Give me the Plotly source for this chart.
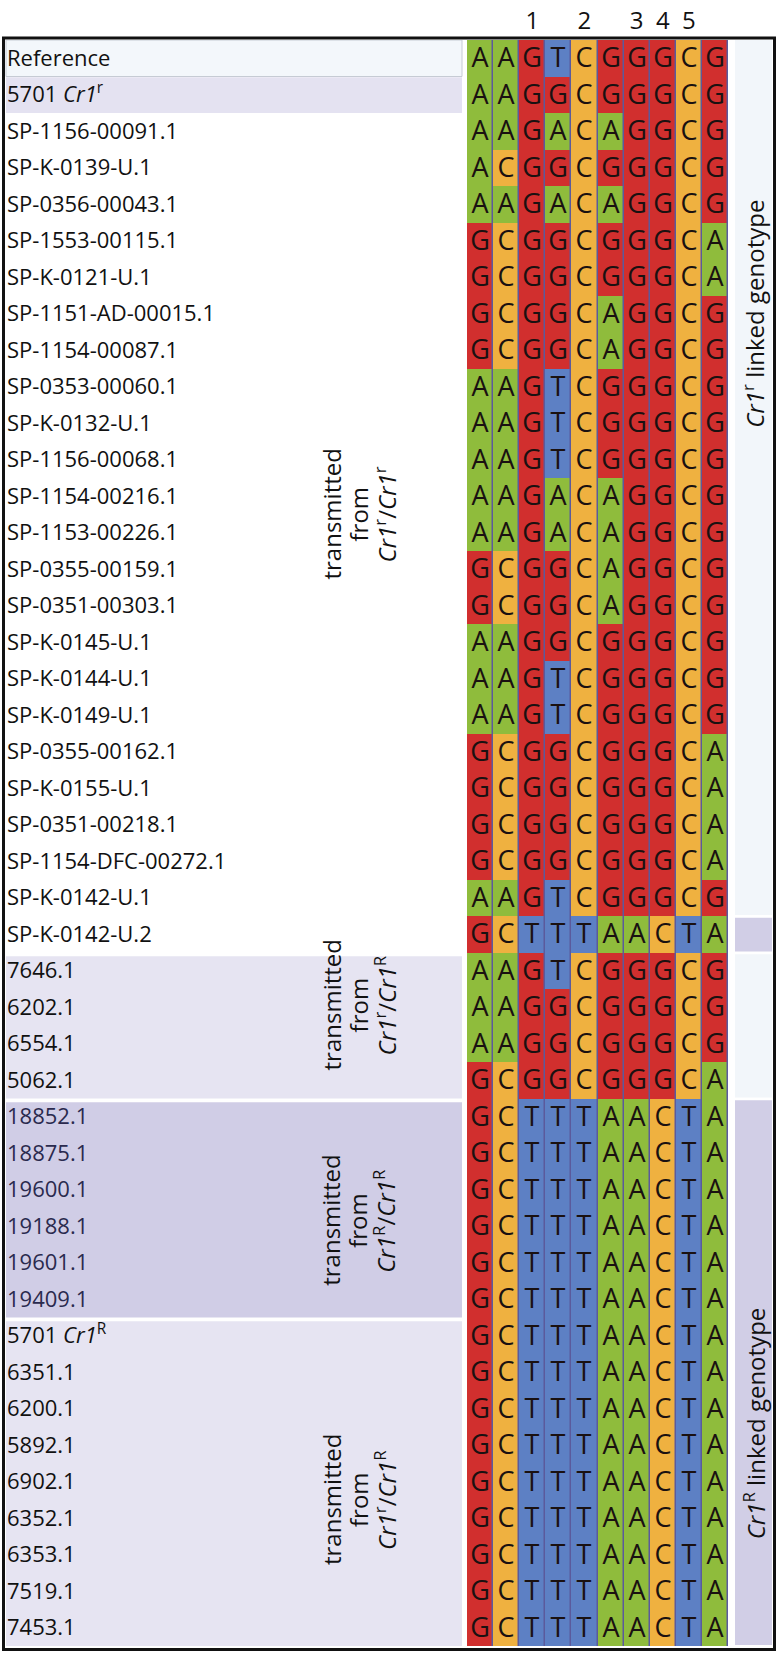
import plotly.graph_objects as go

# ---------------- data ----------------
row_labels = [
    "Reference", "5701 <i>Cr1</i><sup>r</sup>",
    "SP-1156-00091.1", "SP-K-0139-U.1", "SP-0356-00043.1", "SP-1553-00115.1",
    "SP-K-0121-U.1", "SP-1151-AD-00015.1", "SP-1154-00087.1", "SP-0353-00060.1",
    "SP-K-0132-U.1", "SP-1156-00068.1", "SP-1154-00216.1", "SP-1153-00226.1",
    "SP-0355-00159.1", "SP-0351-00303.1", "SP-K-0145-U.1", "SP-K-0144-U.1",
    "SP-K-0149-U.1", "SP-0355-00162.1", "SP-K-0155-U.1", "SP-0351-00218.1",
    "SP-1154-DFC-00272.1", "SP-K-0142-U.1", "SP-K-0142-U.2",
    "7646.1", "6202.1", "6554.1", "5062.1",
    "18852.1", "18875.1", "19600.1", "19188.1", "19601.1", "19409.1",
    "5701 <i>Cr1</i><sup>R</sup>", "6351.1", "6200.1", "5892.1", "6902.1",
    "6352.1", "6353.1", "7519.1", "7453.1",
]
sequences = [
    "AAGTCGGGCG", "AAGGCGGGCG",
    "AAGACAGGCG", "ACGGCGGGCG", "AAGACAGGCG", "GCGGCGGGCA",
    "GCGGCGGGCA", "GCGGCAGGCG", "GCGGCAGGCG", "AAGTCGGGCG",
    "AAGTCGGGCG", "AAGTCGGGCG", "AAGACAGGCG", "AAGACAGGCG",
    "GCGGCAGGCG", "GCGGCAGGCG", "AAGGCGGGCG", "AAGTCGGGCG",
    "AAGTCGGGCG", "GCGGCGGGCA", "GCGGCGGGCA", "GCGGCGGGCA",
    "GCGGCGGGCA", "AAGTCGGGCG", "GCTTTAACTA",
    "AAGTCGGGCG", "AAGGCGGGCG", "AAGGCGGGCG", "GCGGCGGGCA",
    "GCTTTAACTA", "GCTTTAACTA", "GCTTTAACTA", "GCTTTAACTA", "GCTTTAACTA", "GCTTTAACTA",
    "GCTTTAACTA", "GCTTTAACTA", "GCTTTAACTA", "GCTTTAACTA", "GCTTTAACTA",
    "GCTTTAACTA", "GCTTTAACTA", "GCTTTAACTA", "GCTTTAACTA",
]
header_cols = [2, 4, 6, 7, 8]
header_text = ["1", "2", "3", "4", "5"]

# groups (first row, last row)
transmit_groups = [(2, 24), (25, 28), (29, 34), (35, 43)]
transmit_parents = [
    "<i>Cr1</i><sup>r</sup>/<i>Cr1</i><sup>r</sup>",
    "<i>Cr1</i><sup>r</sup>/<i>Cr1</i><sup>R</sup>",
    "<i>Cr1</i><sup>R</sup>/<i>Cr1</i><sup>R</sup>",
    "<i>Cr1</i><sup>r</sup>/<i>Cr1</i><sup>R</sup>",
]
linked_groups = [(0, 23), (24, 24), (25, 28), (29, 43)]
linked_labels = ["<i>Cr1</i><sup>r</sup> linked genotype", "", "", "<i>Cr1</i><sup>R</sup> linked genotype"]

# ---------------- styling ----------------
W, H = 778, 1653
FONT = "Open Sans"
base_code = {"A": 0, "C": 1, "G": 2, "T": 3}
GREEN, ORANGE, RED, BLUE = "#8fbc3c", "#efb140", "#d12f2e", "#5d80c4"
SEP = "#5b5a9c"
n_rows = len(sequences)
n_cols = len(sequences[0])

grid_top, grid_bot = 40, 1646
grid_left, grid_right = 467, 728

def px(x):
    return x / W

z = [[base_code[b] for b in s] for s in sequences]
txt = [list(s) for s in sequences]

fig = go.Figure()
fig.add_trace(go.Heatmap(
    z=z, text=txt, texttemplate="%{text}",
    x=list(range(n_cols)), y=list(range(n_rows)),
    textfont=dict(family=FONT, size=27, color="#1a1111"),
    colorscale=[[0, GREEN], [0.25, GREEN], [0.25, ORANGE], [0.5, ORANGE],
                [0.5, RED], [0.75, RED], [0.75, BLUE], [1, BLUE]],
    zmin=-0.5, zmax=3.5, showscale=False, xgap=1.5, ygap=0,
    hoverinfo="skip",
))
# invisible trace to carry the row-label axis
fig.add_trace(go.Scatter(
    x=[0] * n_rows, y=list(range(n_rows)), yaxis="y2", mode="markers",
    marker=dict(opacity=0), hoverinfo="skip", showlegend=False,
))

ticktext = list(row_labels)
for i in range(29, 35):
    ticktext[i] = f'<span style="color:#2a2a4e">{row_labels[i]}</span>'

shapes = []
# separator background under the heatmap
shapes.append(dict(type="rect", xref="x", yref="y", x0=-0.5, x1=n_cols - 0.5,
                   y0=-0.5, y1=n_rows - 0.5, fillcolor=SEP, line_width=0, layer="below"))
# left panel backgrounds
LX0, LX1 = px(6), px(462)
shapes.append(dict(type="rect", xref="paper", yref="y", x0=LX0, x1=LX1, y0=-0.5, y1=0.5,
                   fillcolor="#f3f7fb", line=dict(color="#c6cbd4", width=1), layer="below"))
shapes.append(dict(type="rect", xref="paper", yref="y", x0=LX0, x1=LX1, y0=0.52, y1=1.5,
                   fillcolor="#e4e2f1", line_width=0, layer="below"))
left_fill = {1: "#e6e4f2", 2: "#d0cde6", 3: "#e6e4f2"}
for gi, (a, b) in enumerate(transmit_groups):
    if gi in left_fill:
        shapes.append(dict(type="rect", xref="paper", yref="y", x0=LX0, x1=LX1,
                           y0=a - 0.5 + 0.1, y1=b + 0.5, fillcolor=left_fill[gi],
                           line_width=0, layer="below"))
# right panel backgrounds
RX0, RX1 = px(735), px(772)
right_fill = ["#f2f6fa", "#d1cee6", "#f2f6fa", "#d1cee6"]
for gi, (a, b) in enumerate(linked_groups):
    shapes.append(dict(type="rect", xref="paper", yref="y", x0=RX0, x1=RX1,
                       y0=a - 0.5 + (0.05 if a > 0 else 0), y1=b + 0.5 - 0.03,
                       fillcolor=right_fill[gi], line_width=0, layer="below"))
# outer frame
shapes.append(dict(type="rect", xref="paper", yref="paper", x0=px(3.5), x1=px(774.5),
                   y0=1 - 1649.5 / H, y1=1 - 38 / H, line=dict(color="#111111", width=3),
                   fillcolor="rgba(0,0,0,0)", layer="above"))

annotations = []
line_x = [331, 358, 385]
group_shift = [-0.5, -0.55, 0.35, 0.5]
for (a, b), parent, dy in zip(transmit_groups, transmit_parents, group_shift):
    yc = (a + b) / 2 + dy
    for lx, t in zip(line_x, ["transmitted", "from", parent]):
        annotations.append(dict(xref="paper", yref="y", x=px(lx), y=yc, text=t,
                                textangle=-90, showarrow=False, xanchor="center",
                                yanchor="middle", font=dict(family=FONT, size=24, color="#111111")))
linked_pos = [7.0, None, None, 37.4]
for t, yp in zip(linked_labels, linked_pos):
    if t:
        annotations.append(dict(xref="paper", yref="y", x=px(754), y=yp, text=t,
                                textangle=-90, showarrow=False, xanchor="center",
                                yanchor="middle", font=dict(family=FONT, size=24, color="#111111")))

ydom = [1 - grid_bot / H, 1 - grid_top / H]
fig.update_layout(
    width=W, height=H, margin=dict(l=0, r=0, t=0, b=0),
    paper_bgcolor="white", plot_bgcolor="rgba(0,0,0,0)",
    font=dict(family=FONT, color="#111111"),
    xaxis=dict(domain=[px(grid_left), px(grid_right)], range=[-0.5, n_cols - 0.5],
               side="top", tickmode="array", tickvals=header_cols, ticktext=header_text,
               tickfont=dict(family=FONT, size=24, color="#111111"), ticks="",
               showgrid=False, zeroline=False, showline=False, fixedrange=True,
               ticklabelstandoff=5),
    yaxis=dict(domain=ydom, range=[n_rows - 0.5, -0.5], visible=False, fixedrange=True),
    yaxis2=dict(overlaying="y", anchor="free", side="right", position=px(6),
                range=[n_rows - 0.5, -0.5], tickmode="array",
                tickvals=list(range(n_rows)), ticktext=ticktext, ticks="",
                tickfont=dict(family=FONT, size=22, color="#111111"),
                showgrid=False, zeroline=False, showline=False, fixedrange=True),
    shapes=shapes, annotations=annotations, showlegend=False,
)
fig.write_html("out.html", config={"displayModeBar": False},
               post_script="document.body.style.margin='0';document.body.style.overflow='hidden';")
